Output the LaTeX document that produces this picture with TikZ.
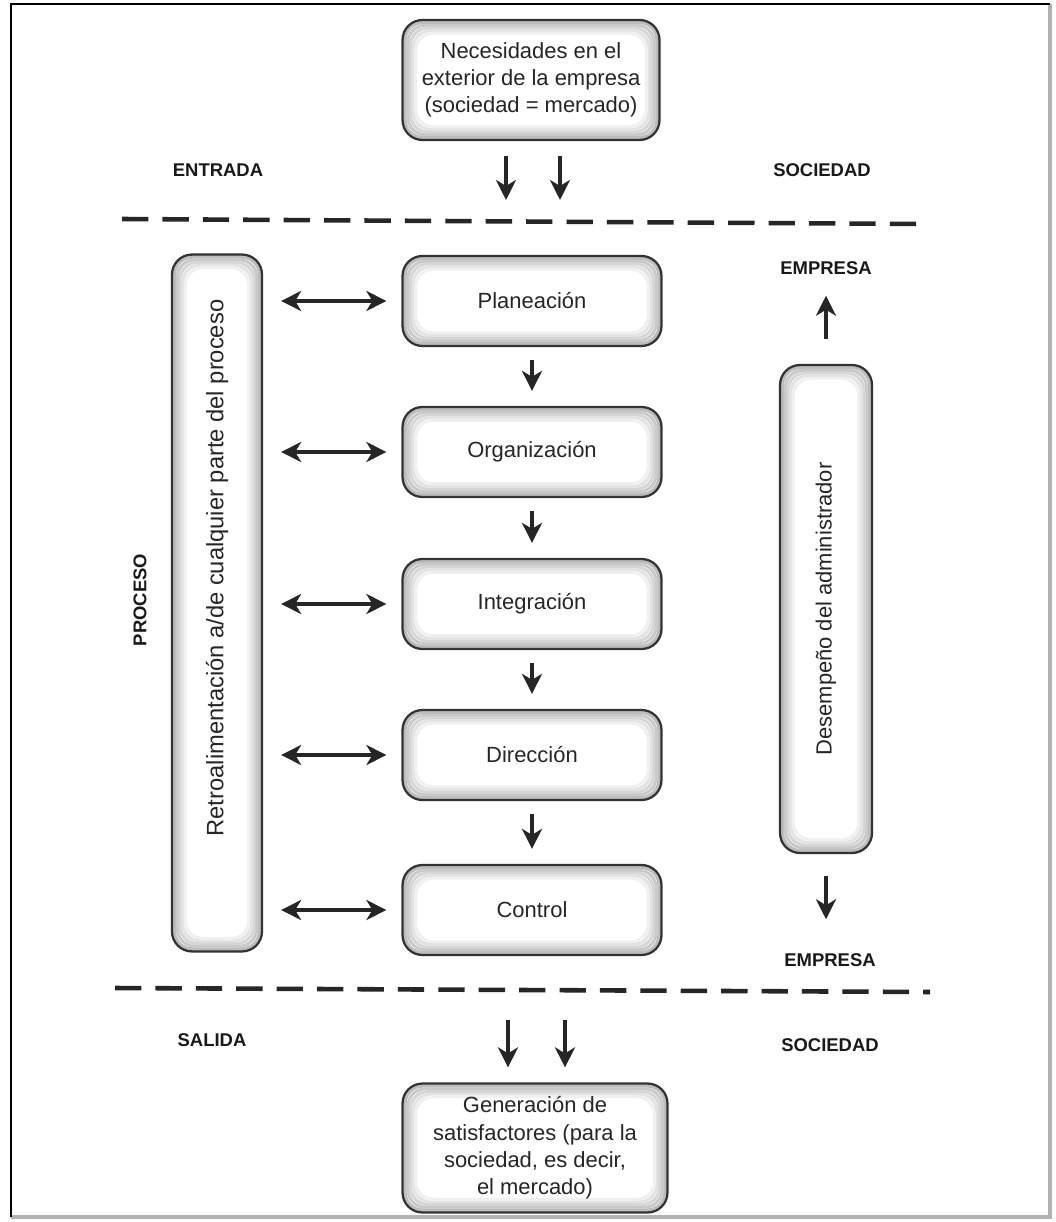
\documentclass[tikz,border=0pt]{standalone}
\usepackage{fontspec}
\setmainfont{Liberation Sans}
\usetikzlibrary{arrows.meta, positioning, calc}
\tikzset{
    shadebox/.style={draw=black!80, line width=1.3pt, rounded corners=0.4cm, fill=white, font=\fontsize{12.5}{15.5}\selectfont, align=center, text=black!85,
        path picture={
            \foreach \k [evaluate=\k as \g using int(62-10*\k)] in {0,...,5}
                \draw[draw=gray!\g, line width=1.7pt, rounded corners=0.35cm]
                    ([shift={(\k*1.5pt,\k*1.5pt)}]path picture bounding box.south west) rectangle
                    ([shift={(-\k*1.5pt,-\k*1.5pt)}]path picture bounding box.north east);
        }},
    stepbox/.style={shadebox, minimum width=5.18cm, minimum height=1.8cm},
    tallbox/.style={shadebox, minimum width=1.8cm},
    tag/.style={font=\fontsize{10.5}{12}\selectfont\bfseries, text=black!90},
    flow/.style={-{Stealth[length=4mm, width=4mm, inset=1.2mm]}, line width=2pt, black!85},
    both/.style={{Stealth[length=4mm, width=4mm, inset=1.2mm]}-{Stealth[length=4mm, width=4mm, inset=1.2mm]}, line width=2pt, black!85},
    sep/.style={line width=2.6pt, dash pattern=on 15pt off 8pt, black!85},
}
\begin{document}
\begin{tikzpicture}[x=0.02cm, y=-0.02cm]
    \useasboundingbox (0,0) rectangle (1055,1222);
    % frame
    \draw[gray!60, line width=2pt] (1050,4) -- (1050,1217) -- (11,1217);
    \draw[black, line width=1.6pt] (11,1217) -- (11,4) -- (1050,4);

    % Entrada
    \node[shadebox, minimum width=5.14cm, minimum height=2.4cm] (need) at (531,80) {Necesidades en el\\exterior de la empresa\\(sociedad = mercado)};
    \node[tag] (entrada) at (218,170) {ENTRADA};
    \node[tag] (socTop) at (822,170) {SOCIEDAD};
    \coordinate (lineA) at (531,221);
    \draw[sep] (122,219) -- (920,224);
    \draw[flow, shorten <=0.3cm, shorten >=0.42cm] ([xshift=-0.5cm]need.south) -- ([xshift=-0.5cm]lineA);
    \draw[flow, shorten <=0.3cm, shorten >=0.42cm] ([xshift=0.58cm]need.south) -- ([xshift=0.58cm]lineA);

    % Proceso
    \node[stepbox] (plan) at (532,301) {Planeación};
    \node[stepbox] (org) at (532,452) {Organización};
    \node[stepbox] (integ) at (532,604) {Integración};
    \node[stepbox] (dir) at (532,755) {Dirección};
    \node[stepbox] (ctrl) at (532,910) {Control};
    \draw[flow, shorten <=0.26cm, shorten >=0.3cm] (plan) -- (org);
    \draw[flow, shorten <=0.26cm, shorten >=0.3cm] (org) -- (integ);
    \draw[flow, shorten <=0.26cm, shorten >=0.3cm] (integ) -- (dir);
    \draw[flow, shorten <=0.26cm, shorten >=0.3cm] (dir) -- (ctrl);

    % Retroalimentacion
    \node[tallbox, minimum height=13.94cm, font=\fontsize{13.5}{16}\selectfont] (retro) at (217,603) {\rotatebox{90}{\hspace*{1.4cm}Retroalimentación a/de cualquier parte del proceso}};
    \node[tag, rotate=90] (proceso) at (140,600) {PROCESO};
    \foreach \n in {plan,org,integ,dir,ctrl}
        \draw[both, shorten <=0.36cm, shorten >=0.3cm] (\n.west -| retro.east) -- (\n.west);

    % Desempeno
    \node[tallbox, minimum width=1.84cm, minimum height=9.76cm] (desemp) at (826,609) {\rotatebox{90}{Desempeño del administrador}};
    \node[tag] (empTop) at (826,268) {EMPRESA};
    \node[tag] (empBot) at (830,960) {EMPRESA};
    \draw[flow, shorten <=0.5cm, shorten >=0.3cm] (desemp.north) -- (desemp.north |- empTop.south);
    \draw[flow, shorten <=0.44cm, shorten >=0.56cm] (desemp.south) -- (desemp.south |- empBot.north);

    % Salida
    \draw[sep] (115,988) -- (930,992);
    \coordinate (lineB) at (535,990);
    \node[tag] (salida) at (212,1040) {SALIDA};
    \node[tag] (socBot) at (830,1045) {SOCIEDAD};
    \node[shadebox, minimum width=5.3cm, minimum height=2.58cm] (result) at (535,1148) {Generación de\\satisfactores (para la\\sociedad, es decir,\\el mercado)};
    \draw[flow, shorten <=0.6cm, shorten >=0.3cm] ([xshift=-0.54cm]lineB) -- ([xshift=-0.54cm]result.north);
    \draw[flow, shorten <=0.6cm, shorten >=0.3cm] ([xshift=0.6cm]lineB) -- ([xshift=0.6cm]result.north);
\end{tikzpicture}
\end{document}
